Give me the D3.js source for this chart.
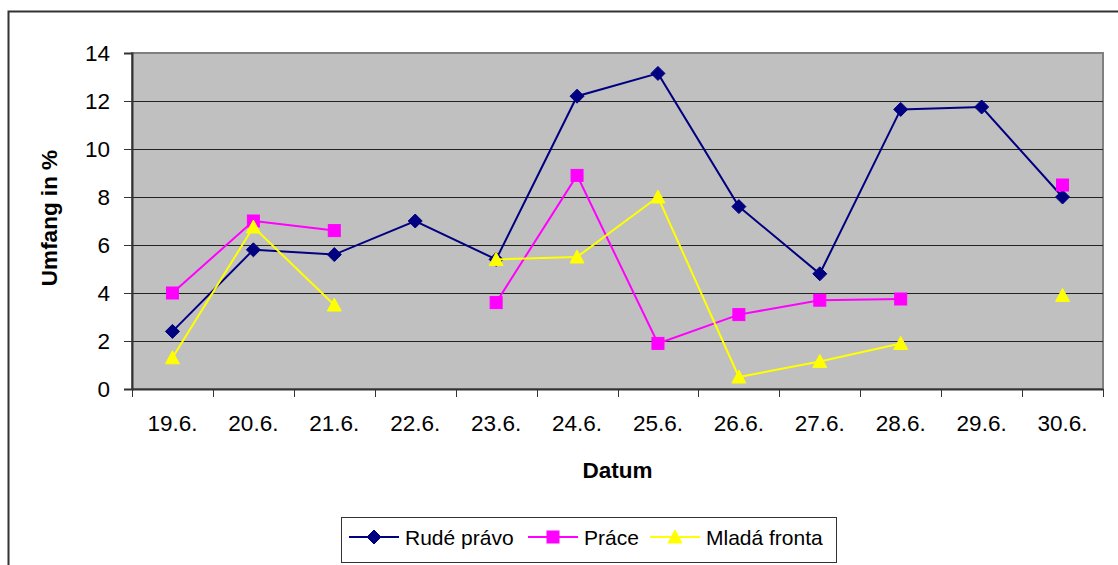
<!DOCTYPE html>
<html lang="en">
<head>
<meta charset="UTF-8">
<title>Umfang in %</title>
<script src="https://d3js.org/d3.v7.min.js"></script>
<style>
    body { margin: 0; background: #fff; font-family: 'Liberation Sans', Arial, sans-serif; }
    svg { display: block; }
    .tick-label { font-size: 22.5px; fill: #000; }
    .axis-title { font-size: 22.5px; font-weight: bold; fill: #000; }
    .legend-text { font-size: 21px; fill: #000; }
</style>
</head>
<body>
<svg width="1118" height="565"></svg>
<script>
const dates = ["19.6.", "20.6.", "21.6.", "22.6.", "23.6.", "24.6.", "25.6.", "26.6.", "27.6.", "28.6.", "29.6.", "30.6."];
const rudePravo = [2.4, 5.8, 5.6, 7.0, 5.4, 12.2, 13.15, 7.6, 4.8, 11.65, 11.75, 8.0];
const prace = [4.0, 7.0, 6.6, null, 3.6, 8.9, 1.9, 3.1, 3.7, 3.75, null, 8.5];
const mladaFronta = [1.3, 6.75, 3.5, null, 5.4, 5.5, 8.0, 0.5, 1.15, 1.9, null, 3.9];
const yTicks = [0, 2, 4, 6, 8, 10, 12, 14];

const series = [
    { name: "Rudé právo", values: rudePravo, color: "#000080", marker: "diamond" },
    { name: "Práce", values: prace, color: "#ff00ff", marker: "square" },
    { name: "Mladá fronta", values: mladaFronta, color: "#ffff00", marker: "triangle" }
];

const svg = d3.select("svg");
const plotLeft = 132, plotRight = 1103, plotTop = 53, plotBottom = 389;

// outer chart border
svg.append("rect")
    .attr("x", 8.5).attr("y", 11.5)
    .attr("width", 1200).attr("height", 700)
    .attr("fill", "none").attr("stroke", "#333").attr("stroke-width", 2);

const x = d3.scaleBand().domain(dates).range([plotLeft, plotRight]).padding(0);
const y = d3.scaleLinear().domain([0, 14]).range([plotBottom, plotTop]);

// plot area
svg.append("rect")
    .attr("x", plotLeft).attr("y", plotTop)
    .attr("width", plotRight - plotLeft).attr("height", plotBottom - plotTop)
    .attr("fill", "#c0c0c0").attr("stroke", "#808080").attr("stroke-width", 2);

// gridlines
svg.selectAll(".grid").data(yTicks.filter(d => d > 0 && d < 14)).enter()
    .append("line")
    .attr("x1", plotLeft).attr("x2", plotRight)
    .attr("y1", d => Math.round(y(d)) + 0.5).attr("y2", d => Math.round(y(d)) + 0.5)
    .attr("stroke", "#222").attr("stroke-width", 1);

// y axis
const yAxis = svg.append("g").attr("transform", `translate(${plotLeft},0)`)
    .call(d3.axisLeft(y).tickValues(yTicks).tickSize(8).tickPadding(14));
yAxis.select(".domain").attr("stroke", "#333").attr("stroke-width", 2);
yAxis.selectAll(".tick line").attr("stroke", "#333");
yAxis.selectAll("text").attr("class", "tick-label").attr("font-family", null).attr("font-size", null);

// x axis
const xAxis = svg.append("g").attr("transform", `translate(0,${plotBottom})`)
    .call(d3.axisBottom(x).tickSize(0).tickPadding(26));
xAxis.select(".domain").attr("stroke", "#333").attr("stroke-width", 2);
xAxis.selectAll("text").attr("class", "tick-label").attr("font-family", null).attr("font-size", null);
const bounds = dates.map(d => x(d)).concat([plotRight]);
xAxis.selectAll(".bound").data(bounds).enter()
    .append("line")
    .attr("x1", d => Math.round(d) + 0.5).attr("x2", d => Math.round(d) + 0.5)
    .attr("y1", 0).attr("y2", 8)
    .attr("stroke", "#333");

// titles
svg.append("text").attr("class", "axis-title")
    .attr("x", (plotLeft + plotRight) / 2).attr("y", 478)
    .attr("text-anchor", "middle").text("Datum");
svg.append("text").attr("class", "axis-title")
    .attr("transform", "translate(57,218) rotate(-90)")
    .attr("text-anchor", "middle").text("Umfang in %");

const cx = d => x(d) + x.bandwidth() / 2;

function drawMarker(g, type, color, px, py) {
    if (type === "diamond") {
        g.append("path")
            .attr("d", `M${px},${py - 7}L${px + 7},${py}L${px},${py + 7}L${px - 7},${py}Z`)
            .attr("fill", color).attr("stroke", color);
    } else if (type === "square") {
        g.append("rect")
            .attr("x", px - 6).attr("y", py - 6).attr("width", 12).attr("height", 12)
            .attr("fill", color).attr("stroke", color);
    } else {
        g.append("path")
            .attr("d", `M${px},${py - 7}L${px + 7},${py + 6}L${px - 7},${py + 6}Z`)
            .attr("fill", color).attr("stroke", color);
    }
}

const line = d3.line()
    .defined(d => d.v != null)
    .x(d => cx(d.date))
    .y(d => y(d.v));

series.forEach(s => {
    const pts = dates.map((date, i) => ({ date, v: s.values[i] }));
    const g = svg.append("g");
    g.append("path").datum(pts)
        .attr("d", line)
        .attr("fill", "none").attr("stroke", s.color).attr("stroke-width", 2);
    pts.filter(p => p.v != null).forEach(p => drawMarker(g, s.marker, s.color, cx(p.date), y(p.v)));
});

// legend
const legend = svg.append("g");
legend.append("rect")
    .attr("x", 341.5).attr("y", 517.5).attr("width", 495).attr("height", 45)
    .attr("fill", "#fff").attr("stroke", "#333").attr("stroke-width", 1);
const legendX = [349, 528, 650];
series.forEach((s, i) => {
    const lx = legendX[i], ly = 537;
    legend.append("line")
        .attr("x1", lx).attr("x2", lx + 50).attr("y1", ly).attr("y2", ly)
        .attr("stroke", s.color).attr("stroke-width", 2);
    drawMarker(legend, s.marker, s.color, lx + 25, ly);
    legend.append("text").attr("class", "legend-text")
        .attr("x", lx + 56).attr("y", ly + 8).text(s.name);
});
</script>
</body>
</html>
